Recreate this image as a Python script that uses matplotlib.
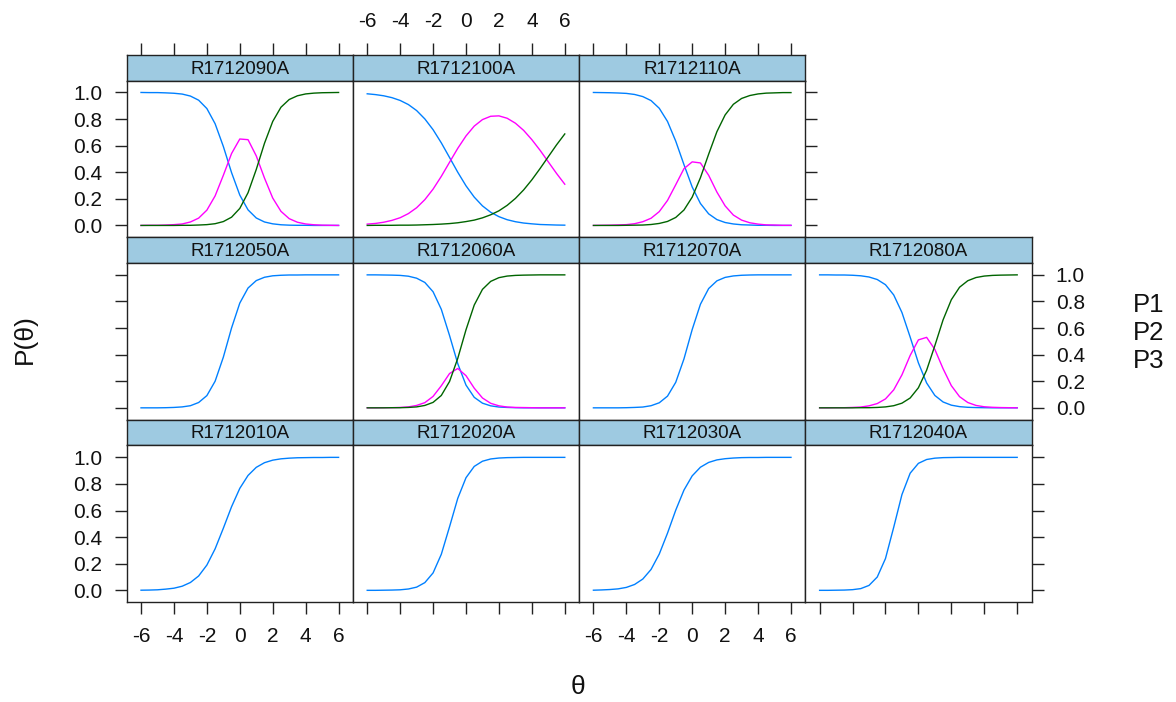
import matplotlib.pyplot as plt

plt.rcParams['font.family'] = ['Liberation Sans', 'DejaVu Sans']
plt.rcParams['axes.unicode_minus'] = False

# theta grid and item trace lines (P1 blue, P2 magenta, P3 green)
theta = [-6, -5.5, -5, -4.5, -4, -3.5, -3, -2.5, -2, -1.5, -1, -0.5, 0,
         0.5, 1, 1.5, 2, 2.5, 3, 3.5, 4, 4.5, 5, 5.5, 6]

r090_p1 = [1.000, 0.999, 0.999, 0.997, 0.994, 0.988, 0.973, 0.942, 0.879, 0.765, 0.594, 0.397, 0.228,
           0.117, 0.056, 0.026, 0.012, 0.005, 0.002, 0.001, 0.001, 0.000, 0.000, 0.000, 0.000]
r090_p2 = [0.000, 0.001, 0.001, 0.003, 0.006, 0.011, 0.026, 0.055, 0.115, 0.222, 0.377, 0.541, 0.650,
           0.645, 0.523, 0.356, 0.206, 0.106, 0.051, 0.024, 0.011, 0.005, 0.002, 0.001, 0.000]
r090_p3 = [0.000, 0.000, 0.000, 0.000, 0.000, 0.001, 0.001, 0.003, 0.006, 0.013, 0.029, 0.062, 0.128,
           0.246, 0.421, 0.618, 0.782, 0.889, 0.947, 0.975, 0.989, 0.995, 0.998, 0.999, 1.000]

r100_p1 = [0.990, 0.984, 0.975, 0.961, 0.940, 0.909, 0.864, 0.801, 0.720, 0.621, 0.511, 0.400, 0.298,
           0.213, 0.147, 0.099, 0.066, 0.043, 0.028, 0.018, 0.012, 0.007, 0.005, 0.003, 0.002]
r100_p2 = [0.010, 0.015, 0.024, 0.038, 0.058, 0.089, 0.133, 0.194, 0.273, 0.369, 0.475, 0.580, 0.673,
           0.747, 0.796, 0.821, 0.824, 0.806, 0.769, 0.715, 0.645, 0.565, 0.478, 0.391, 0.310]
r100_p3 = [0.000, 0.001, 0.001, 0.001, 0.002, 0.002, 0.003, 0.005, 0.007, 0.010, 0.014, 0.020, 0.029,
           0.040, 0.057, 0.080, 0.110, 0.151, 0.203, 0.267, 0.343, 0.428, 0.517, 0.606, 0.688]

r110_p1 = [1.000, 0.999, 0.998, 0.996, 0.993, 0.985, 0.969, 0.939, 0.881, 0.782, 0.634, 0.457, 0.289,
           0.165, 0.087, 0.044, 0.022, 0.011, 0.005, 0.003, 0.001, 0.001, 0.000, 0.000, 0.000]
r110_p2 = [0.000, 0.001, 0.002, 0.004, 0.006, 0.013, 0.028, 0.054, 0.104, 0.188, 0.306, 0.427, 0.478,
           0.470, 0.377, 0.251, 0.147, 0.078, 0.040, 0.020, 0.010, 0.004, 0.003, 0.001, 0.001]
r110_p3 = [0.000, 0.000, 0.000, 0.000, 0.001, 0.002, 0.003, 0.007, 0.015, 0.030, 0.060, 0.116, 0.213,
           0.359, 0.536, 0.705, 0.831, 0.911, 0.955, 0.977, 0.989, 0.995, 0.997, 0.999, 0.999]

r050_p1 = [0.000, 0.000, 0.000, 0.001, 0.003, 0.007, 0.016, 0.040, 0.092, 0.200, 0.381, 0.601, 0.788,
           0.901, 0.957, 0.982, 0.993, 0.997, 0.999, 0.999, 1.000, 1.000, 1.000, 1.000, 1.000]

r060_p1 = [1.000, 1.000, 0.999, 0.998, 0.996, 0.990, 0.975, 0.943, 0.873, 0.741, 0.544, 0.332, 0.171,
           0.079, 0.035, 0.015, 0.006, 0.003, 0.001, 0.000, 0.000, 0.000, 0.000, 0.000, 0.000]
r060_p2 = [0.000, 0.000, 0.001, 0.001, 0.003, 0.007, 0.018, 0.039, 0.086, 0.166, 0.258, 0.296, 0.242,
           0.148, 0.074, 0.034, 0.015, 0.006, 0.003, 0.002, 0.001, 0.000, 0.000, 0.000, 0.000]
r060_p3 = [0.000, 0.000, 0.000, 0.001, 0.001, 0.003, 0.007, 0.018, 0.041, 0.093, 0.198, 0.372, 0.587,
           0.773, 0.891, 0.951, 0.979, 0.991, 0.996, 0.998, 0.999, 1.000, 1.000, 1.000, 1.000]

r070_p1 = [0.000, 0.000, 0.000, 0.000, 0.001, 0.003, 0.006, 0.016, 0.038, 0.088, 0.192, 0.368, 0.589,
           0.779, 0.897, 0.955, 0.981, 0.992, 0.997, 0.999, 1.000, 1.000, 1.000, 1.000, 1.000]

r080_p1 = [1.000, 1.000, 0.999, 0.999, 0.997, 0.993, 0.984, 0.965, 0.926, 0.849, 0.717, 0.532, 0.338,
           0.187, 0.093, 0.044, 0.020, 0.009, 0.004, 0.002, 0.001, 0.000, 0.000, 0.000, 0.000]
r080_p2 = [0.000, 0.000, 0.001, 0.001, 0.003, 0.006, 0.015, 0.032, 0.067, 0.135, 0.248, 0.394, 0.511,
           0.530, 0.439, 0.294, 0.167, 0.084, 0.040, 0.018, 0.008, 0.004, 0.002, 0.001, 0.000]
r080_p3 = [0.000, 0.000, 0.000, 0.000, 0.000, 0.001, 0.001, 0.003, 0.007, 0.016, 0.035, 0.074, 0.151,
           0.283, 0.468, 0.662, 0.813, 0.907, 0.956, 0.980, 0.991, 0.996, 0.998, 0.999, 1.000]

r010_p1 = [0.001, 0.002, 0.004, 0.009, 0.016, 0.031, 0.059, 0.108, 0.190, 0.312, 0.467, 0.629, 0.767,
           0.864, 0.925, 0.960, 0.979, 0.989, 0.994, 0.997, 0.998, 0.999, 0.999, 1.000, 1.000]
r020_p1 = [0.000, 0.000, 0.001, 0.002, 0.004, 0.010, 0.024, 0.058, 0.131, 0.271, 0.478, 0.692, 0.847,
           0.932, 0.971, 0.988, 0.995, 0.998, 0.999, 1.000, 1.000, 1.000, 1.000, 1.000, 1.000]
r030_p1 = [0.001, 0.003, 0.006, 0.011, 0.022, 0.044, 0.085, 0.157, 0.273, 0.430, 0.603, 0.754, 0.861,
           0.926, 0.962, 0.981, 0.990, 0.995, 0.998, 0.999, 0.999, 1.000, 1.000, 1.000, 1.000]
r040_p1 = [0.000, 0.000, 0.001, 0.002, 0.005, 0.013, 0.037, 0.100, 0.239, 0.474, 0.720, 0.881, 0.955,
           0.984, 0.994, 0.998, 0.999, 1.000, 1.000, 1.000, 1.000, 1.000, 1.000, 1.000, 1.000]

layout = [
    [('R1712090A', [r090_p1, r090_p2, r090_p3]),
     ('R1712100A', [r100_p1, r100_p2, r100_p3]),
     ('R1712110A', [r110_p1, r110_p2, r110_p3]),
     None],
    [('R1712050A', [r050_p1]),
     ('R1712060A', [r060_p1, r060_p2, r060_p3]),
     ('R1712070A', [r070_p1]),
     ('R1712080A', [r080_p1, r080_p2, r080_p3])],
    [('R1712010A', [r010_p1]),
     ('R1712020A', [r020_p1]),
     ('R1712030A', [r030_p1]),
     ('R1712040A', [r040_p1])],
]

line_cols = ['#0080ff', '#ff00ff', '#006400']
strip_col = '#9ecae1'
frame_col = '#222222'
xticks = [-6, -4, -2, 0, 2, 4, 6]
xlabels = ['-6', '-4', '-2', '0', '2', '4', '6']
yticks = [0, 0.2, 0.4, 0.6, 0.8, 1.0]
ylabels = ['0.0', '0.2', '0.4', '0.6', '0.8', '1.0']

W, H = 1176, 702
fig = plt.figure(figsize=(W / 100, H / 100), dpi=100)

col_left = [126.7, 352.9, 579.1, 805.3]
row_top = [55.0, 237.4, 419.9]
pw = 226.2
sh = 25.5
ph = 182.4 - sh


def box(x, y, w, h):
    return [x / W, 1 - (y + h) / H, w / W, h / H]


tick_kw = dict(direction='out', length=8.5, width=1.0, color=frame_col,
               labelsize=15, pad=9, labelcolor='#111111')

for r, row in enumerate(layout):
    last_col = max(c for c, p in enumerate(row) if p is not None)
    for c, panel in enumerate(row):
        if panel is None:
            continue
        name, curves = panel
        x0, y0 = col_left[c], row_top[r]

        # strip (top axis sits above it on the first row)
        sa = fig.add_axes(box(x0, y0, pw, sh))
        sa.set_facecolor(strip_col)
        sa.set_xlim(-6.87, 6.87)
        sa.set_ylim(0, 1)
        sa.set_yticks([])
        sa.text(0.5, 0.45, name, transform=sa.transAxes, ha='center', va='center',
                fontsize=13.5, color='#111111')
        for s in sa.spines.values():
            s.set_color(frame_col)
            s.set_linewidth(1.0)
        if r == 0:
            sa.set_xticks(xticks)
            sa.set_xticklabels(xlabels)
            sa.tick_params(axis='x', bottom=False, labelbottom=False,
                           top=True, labeltop=(c == 1), **tick_kw)
        else:
            sa.set_xticks([])

        # panel
        ax = fig.add_axes(box(x0, y0 + sh, pw, ph))
        for k, vals in enumerate(curves):
            ax.plot(theta, vals, color=line_cols[k], lw=1.0)
        ax.set_xlim(-6.87, 6.87)
        ax.set_ylim(-0.09, 1.09)
        for s in ax.spines.values():
            s.set_color(frame_col)
            s.set_linewidth(1.0)
        ax.set_xticks(xticks)
        ax.set_xticklabels(xlabels)
        ax.set_yticks(yticks)
        ax.set_yticklabels(ylabels)
        ax.tick_params(axis='x', top=False, labeltop=False,
                       bottom=(r == 2), labelbottom=(r == 2 and c in (0, 2)), **tick_kw)
        ax.tick_params(axis='y', left=(c == 0), labelleft=(c == 0 and r != 1),
                       right=(c == last_col), labelright=(c == last_col and r == 1), **tick_kw)

# key
for i, lab in enumerate(['P1', 'P2', 'P3']):
    fig.text(1133 / W, 1 - (311.5 + 28 * i) / H, lab, fontsize=18.5,
             va='baseline', ha='left', color='#111111')

fig.text(25 / W, 1 - 339 / H, 'P(θ)', rotation=90, fontsize=19,
         ha='center', va='center', color='#111111')
fig.text(578 / W, 1 - 687 / H, 'θ', fontsize=19, ha='center', va='center',
         color='#111111')

fig.savefig('out.png', dpi=100)
